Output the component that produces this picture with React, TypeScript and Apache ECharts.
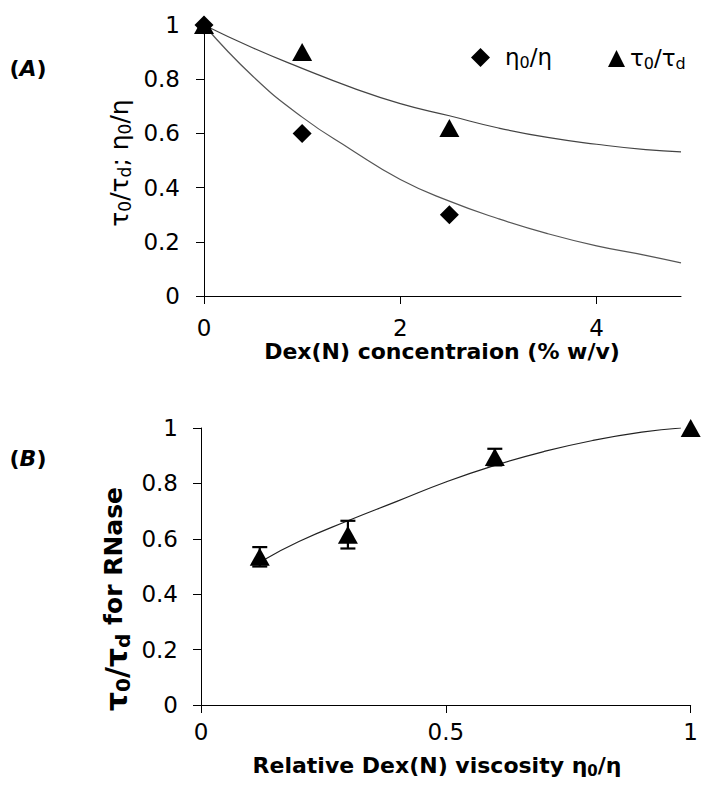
import React, { useEffect, useRef } from "react";
import * as echarts from "echarts";

const FONT = "DejaVu Sans";

// Panel A data
const xA = [0, 1, 2.5];
const etaA = [1, 0.6, 0.3];
const tauA = [1, 0.9, 0.62];
// Panel A trend lines
const fitXA = [0, 0.5, 1, 1.5, 2, 2.5, 3, 3.5, 4, 4.5, 4.86];
const etaFitA = [1, 0.81, 0.66, 0.54, 0.43, 0.35, 0.285, 0.23, 0.185, 0.15, 0.122];
const tauFitA = [1, 0.915, 0.84, 0.77, 0.71, 0.665, 0.62, 0.585, 0.56, 0.54, 0.532];

// Panel B data
const xB = [0.12, 0.3, 0.6, 1];
const yB = [0.535, 0.615, 0.895, 1];
const errB = [0.035, 0.05, 0.03, 0];
const fitXB = [0.13, 0.2, 0.3, 0.4, 0.5, 0.6, 0.7, 0.8, 0.9, 0.98];
const fitYB = [0.525, 0.59, 0.665, 0.735, 0.805, 0.865, 0.915, 0.955, 0.985, 1.0];

const yTicks = [0, 0.2, 0.4, 0.6, 0.8, 1];
const xTicksA = [0, 2, 4];
const xTicksB = [0, 0.5, 1];

function rich(size: number, bold: boolean, greek: number, sub: number, drop: number) {
  const w = bold ? "bold" : "normal";
  const lh = Math.max(size, greek) + 2;
  return {
    n: { fontSize: size, fontFamily: FONT, fontWeight: w, color: "#000", lineHeight: lh, verticalAlign: "top" },
    g: { fontSize: greek, fontFamily: FONT, fontWeight: w, color: "#000", lineHeight: lh, verticalAlign: "top" },
    f: { fontSize: greek, fontFamily: FONT, fontWeight: w, color: "#000", lineHeight: lh, verticalAlign: "top", padding: [0, 0, 0, 10] },
    i: { fontSize: size, fontFamily: FONT, fontWeight: w, fontStyle: "italic", color: "#000", lineHeight: lh, verticalAlign: "top" },
    s: { fontSize: sub, fontFamily: FONT, fontWeight: w, color: "#000", lineHeight: sub, padding: [drop, 0, 0, 0], verticalAlign: "bottom" },
  };
}

const zip = (a: number[], b: number[]) => a.map((v, i) => [v, b[i]]);

const axisBase = {
  axisLine: { show: true, onZero: false, lineStyle: { color: "#000", width: 1 } },
  axisTick: { show: true, length: 8, lineStyle: { color: "#000", width: 1 } },
  splitLine: { show: false },
};
const labelBase = { fontSize: 23, fontFamily: FONT, color: "#000" };

const textEl = (x: number, y: number, text: string, r: any, rotate = false) => ({
  type: "text",
  x,
  y,
  rotation: rotate ? Math.PI / 2 : 0,
  style: { text, rich: r, align: "center", verticalAlign: "middle" },
});

const option: any = {
  animation: false,
  backgroundColor: "#fff",
  grid: [
    { left: 204, top: 25, width: 477, height: 271 },
    { left: 201, top: 428, width: 491, height: 277 },
  ],
  xAxis: [
    { type: "value", gridIndex: 0, min: 0, max: 4.86, interval: 2, ...axisBase,
      axisLabel: { ...labelBase, margin: 20, showMaxLabel: false,
        formatter: (v: number) => (xTicksA.includes(v) ? String(v) : "") } },
    { type: "value", gridIndex: 1, min: 0, max: 1, interval: 0.5, ...axisBase,
      axisLabel: { ...labelBase, margin: 15,
        formatter: (v: number) => (xTicksB.includes(v) ? String(v) : "") } },
  ],
  yAxis: [
    { type: "value", gridIndex: 0, min: 0, max: 1, interval: 0.2, ...axisBase,
      axisLabel: { ...labelBase, margin: 24,
        formatter: (v: number) => String(yTicks.find((t) => Math.abs(t - v) < 1e-6) ?? v) } },
    { type: "value", gridIndex: 1, min: 0, max: 1, interval: 0.2, ...axisBase,
      axisLabel: { ...labelBase, margin: 23,
        formatter: (v: number) => String(yTicks.find((t) => Math.abs(t - v) < 1e-6) ?? v) } },
  ],
  legend: [
    {
      data: [{ name: "η0/η", icon: "diamond" }],
      left: 466, top: 39, itemWidth: 19, itemHeight: 19, selectedMode: false,
      formatter: () => "{f|η}{s|0}{g|/η}",
      textStyle: { rich: rich(23, false, 23, 16, 10) },
    },
    {
      data: [{ name: "τ0/τd", icon: "triangle" }],
      left: 603, top: 40, itemWidth: 17, itemHeight: 17, selectedMode: false,
      formatter: () => "{g|τ}{s|0}{g|/τ}{s|d}",
      textStyle: { rich: rich(23, false, 23, 16, 10) },
    },
  ],
  graphic: [
    textEl(28, 69, "{n|(}{i|A}{n|)}", rich(22, true, 22, 15, 10)),
    textEl(28, 459, "{n|(}{i|B}{n|)}", rich(22, true, 22, 15, 10)),
    textEl(120, 163, "{g|τ}{s|0}{g|/τ}{s|d}{g|; η}{s|0}{g|/η}", rich(23, false, 25, 17, 10), true),
    textEl(117, 599, "{g|τ}{s|0}{g|/τ}{s|d}{n| for RNase}", rich(25, true, 30, 20, 11), true),
    textEl(442, 352, "{n|Dex(N) concentraion (% w/v)}", rich(22, true, 22, 15, 10)),
    textEl(437, 766, "{n|Relative Dex(N) viscosity η}{s|0}{n|/η}", rich(22, true, 22, 15, 10)),
  ],
  series: [
    { type: "line", name: "etaFit", xAxisIndex: 0, yAxisIndex: 0, data: zip(fitXA, etaFitA), smooth: true,
      showSymbol: false, symbol: "none", lineStyle: { color: "#555", width: 1.2 }, z: 1 },
    { type: "line", name: "tauFit", xAxisIndex: 0, yAxisIndex: 0, data: zip(fitXA, tauFitA), smooth: true,
      showSymbol: false, symbol: "none", lineStyle: { color: "#444", width: 1.2 }, z: 1 },
    { type: "scatter", name: "η0/η", xAxisIndex: 0, yAxisIndex: 0, data: zip(xA, etaA), symbol: "diamond",
      symbolSize: [19, 19], itemStyle: { color: "#000", opacity: 1 }, z: 3 },
    { type: "scatter", name: "τ0/τd", xAxisIndex: 0, yAxisIndex: 0, data: zip(xA, tauA), symbol: "triangle",
      symbolSize: [20, 18], itemStyle: { color: "#000", opacity: 1 }, z: 4 },
    { type: "line", name: "fitB", xAxisIndex: 1, yAxisIndex: 1, data: zip(fitXB, fitYB), smooth: true,
      showSymbol: false, symbol: "none", lineStyle: { color: "#222", width: 1.2 }, z: 1 },
    {
      type: "custom", name: "errB", xAxisIndex: 1, yAxisIndex: 1,
      data: xB.map((x, i) => [x, yB[i], errB[i]]),
      renderItem: (params: any, api: any) => {
        const x = api.value(0), y = api.value(1), e = api.value(2);
        if (!e) return { type: "group", children: [] };
        const top = api.coord([x, y + e]);
        const bot = api.coord([x, y - e]);
        const hw = 7.5;
        const st = { stroke: "#000", lineWidth: 2.2 };
        return {
          type: "group",
          children: [
            { type: "line", shape: { x1: top[0], y1: top[1], x2: bot[0], y2: bot[1] }, style: st },
            { type: "line", shape: { x1: top[0] - hw, y1: top[1], x2: top[0] + hw, y2: top[1] }, style: st },
            { type: "line", shape: { x1: bot[0] - hw, y1: bot[1], x2: bot[0] + hw, y2: bot[1] }, style: st },
          ],
        };
      },
      z: 2,
    },
    { type: "scatter", name: "RNase", xAxisIndex: 1, yAxisIndex: 1, data: zip(xB, yB), symbol: "triangle",
      symbolSize: [20, 18], itemStyle: { color: "#000", opacity: 1 }, z: 4 },
  ],
};

export default function App() {
  const ref = useRef<HTMLDivElement>(null);
  useEffect(() => {
    const chart = echarts.init(ref.current!, null, { renderer: "svg" });
    chart.setOption(option);
    return () => chart.dispose();
  }, []);
  return (
    <div
      ref={ref}
      style={{ position: "absolute", left: 0, top: 0, width: 701, height: 791, background: "#fff" }}
    />
  );
}
